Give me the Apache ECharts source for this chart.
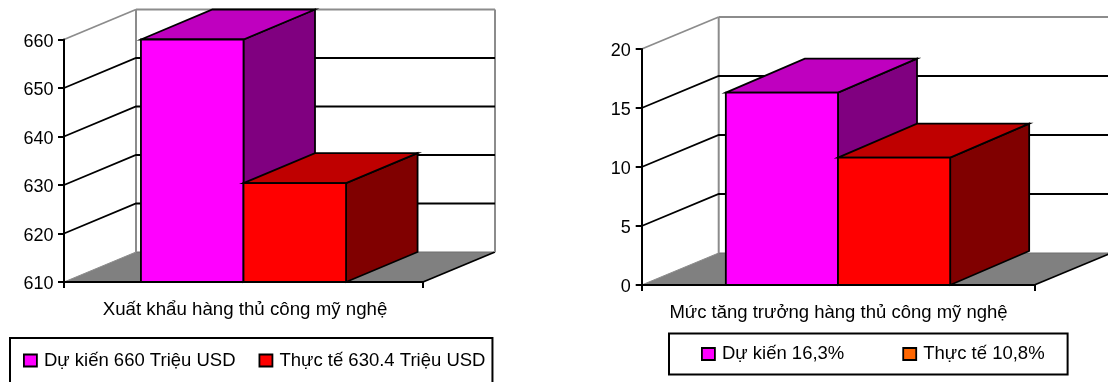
<!DOCTYPE html>
<html>
<head>
<meta charset="utf-8">
<style>html,body{margin:0;padding:0;background:#fff}#chart{width:1108px;height:382px}</style>
<script src="https://cdn.jsdelivr.net/npm/echarts@6/dist/echarts.min.js"></script>
</head>
<body>
<div id="chart"></div>
<script>
// Export panel
const exportCategory = ['Xuất khẩu hàng thủ công mỹ nghệ'];
const exportNames = ['Dự kiến 660 Triệu USD', 'Thực tế 630.4 Triệu USD'];
const exportPlanned = [660];
const exportActual = [630.4];
const exportTicks = [620, 630, 640, 650];

// Growth panel
const growthCategory = ['Mức tăng trưởng hàng thủ công mỹ nghệ'];
const growthNames = ['Dự kiến 16,3%', 'Thực tế 10,8%'];
const growthPlanned = [16.3];
const growthActual = [10.8];
const growthTicks = [5, 10, 15];

const FONT = '"Liberation Sans", Arial, sans-serif';
const INK = '#000';
const WALL = '#8c8c8c';
const STROKE = 1.8;
const BAR_SHARE = 1 / 3.5;   // two bars plus a 150% gap in the category band
const MAGENTA = { front: '#ff00ff', top: '#bf00bf', side: '#800080' };
const RED = { front: '#ff0000', top: '#bf0000', side: '#800000' };

const line = (x1, y1, x2, y2, stroke, lineWidth) => ({
  type: 'line', shape: { x1, y1, x2, y2 }, style: { stroke, lineWidth, fill: null }
});
const poly = (points, fill, stroke, lineWidth) => ({
  type: 'polygon', shape: { points }, style: { fill, stroke, lineWidth, lineJoin: 'miter' }
});

// Back walls and floor, extruded from the plot rectangle by (dx, dy)
function frameRenderer(dx, dy) {
  return (params) => {
    const r = params.coordSys;
    const x0 = r.x, x1 = r.x + r.width, yT = r.y, yB = r.y + r.height;
    return { type: 'group', children: [
      poly([[x0 + dx, yB + dy], [x1 + dx, yB + dy], [x1, yB], [x0, yB]], '#808080', null, 0),
      line(x0, yB, x0 + dx, yB + dy, WALL, 1),
      line(x0 + dx, yB + dy, x1 + dx, yB + dy, '#6e6e6e', 1),
      line(x1, yB, x1 + dx, yB + dy, INK, STROKE),
      line(x0, yT, x0 + dx, yT + dy, WALL, STROKE),
      line(x0 + dx, yT + dy, x1 + dx, yT + dy, WALL, 2),
      line(x0 + dx, yT + dy, x0 + dx, yB + dy, WALL, 2),
      line(x1 + dx, yT + dy, x1 + dx, yB + dy, WALL, 2)
    ]};
  };
}

// One gridline: runs up the side wall, then along the back wall
function gridRenderer(dx, dy) {
  return (params, api) => {
    const r = params.coordSys;
    const p = api.coord([0, api.value(1)]);
    return { type: 'polyline', shape: { points: [
      [r.x, p[1]], [r.x + dx, p[1] + dy], [r.x + r.width + dx, p[1] + dy]
    ]}, style: { stroke: INK, lineWidth: STROKE, fill: null } };
  };
}

// Extruded bar; slot is the bar's left edge in bar widths from the band centre
function barRenderer(slot, tone, dx, dy) {
  return (params, api) => {
    const r = params.coordSys;
    const w = r.width * BAR_SHARE;
    const top = api.coord([0, api.value(1)]);
    const yB = r.y + r.height;
    const xL = top[0] + slot * w, xR = xL + w, yT = top[1];
    return { type: 'group', children: [
      poly([[xR, yT], [xR + dx, yT + dy], [xR + dx, yB + dy], [xR, yB]], tone.side, INK, STROKE),
      poly([[xL, yT], [xL + dx, yT + dy], [xR + dx, yT + dy], [xR, yT]], tone.top, INK, STROKE),
      poly([[xL, yT], [xR, yT], [xR, yB], [xL, yB]], tone.front, INK, STROKE)
    ]};
  };
}

function panelSeries(i, names, planned, actual, ticks, top, wall, bar) {
  const base = { type: 'custom', xAxisIndex: i, yAxisIndex: i, silent: true, encode: { x: 0, y: 1 } };
  return [
    { ...base, name: 'frame' + i, z: 1, data: [[0, top]], renderItem: frameRenderer(wall.dx, wall.dy) },
    { ...base, name: 'grid' + i, z: 2, data: ticks.map(t => [0, t]), renderItem: gridRenderer(wall.dx, wall.dy) },
    { ...base, name: names[0], z: 3, data: [[0, planned[0]]], renderItem: barRenderer(-1, MAGENTA, bar.dx, bar.dy) },
    { ...base, name: names[1], z: 4, data: [[0, actual[0]]], renderItem: barRenderer(0, RED, bar.dx, bar.dy) }
  ];
}

const axisLine = { show: true, lineStyle: { color: INK, width: 2 } };
const axisTick = { show: true, length: 6, lineStyle: { color: INK, width: 2 } };

function xAxis(i, cats, margin, size, shift) {
  return { type: 'category', gridIndex: i, data: cats, z: 6, axisLine, axisTick,
    axisLabel: { color: '#000', fontFamily: FONT, fontSize: size, margin, interval: 0, padding: [0, 0, 0, shift] } };
}
function yAxis(i, min, max, step, margin) {
  // The rich box carries extra space on top so each number sits a little below its tick
  return { type: 'value', gridIndex: i, min, max, interval: step, z: 6, axisLine, axisTick,
    splitLine: { show: false },
    axisLabel: { margin, formatter: '{n|{value}}',
      rich: { n: { color: '#000', fontFamily: FONT, fontSize: 18, padding: [5, 0, 0, 0] } } } };
}
function legend(names, colors, left, top, padding, gap) {
  return { left, top, padding, itemGap: gap, itemWidth: 13, itemHeight: 12,
    selectedMode: false, orient: 'horizontal', backgroundColor: '#fff',
    borderColor: INK, borderWidth: 2, borderRadius: 0,
    textStyle: { color: '#000', fontFamily: FONT, fontSize: 18.5, padding: [0, 0, 0, 2] },
    data: names.map((name, k) => ({ name, icon: 'rect',
      itemStyle: { color: colors[k], borderColor: INK, borderWidth: 1.8 } })) };
}

const option = {
  animation: false,
  backgroundColor: '#fff',
  grid: [
    { left: 64, top: 39.5, width: 359, height: 242.5, containLabel: false },
    { left: 641.7, top: 49, width: 392.6, height: 236, containLabel: false }
  ],
  xAxis: [xAxis(0, exportCategory, 18, 18.7, 3), xAxis(1, growthCategory, 18, 18.5, 1)],
  yAxis: [yAxis(0, 610, 660, 10, 10.5), yAxis(1, 0, 20, 5, 11)],
  legend: [
    legend(exportNames, [MAGENTA.front, RED.front], 10, 338, [13, 7, 14, 13], 23),
    legend(growthNames, [MAGENTA.front, '#ff6600'], 669, 333.5, [11, 23, 11, 32], 58)
  ],
  series: [
    ...panelSeries(0, exportNames, exportPlanned, exportActual, exportTicks, 660, { dx: 72, dy: -30 }, { dx: 71.5, dy: -30 }),
    ...panelSeries(1, growthNames, growthPlanned, growthActual, growthTicks, 20, { dx: 77, dy: -32 }, { dx: 79, dy: -34 })
  ]
};

echarts.init(document.getElementById('chart'), null, { renderer: 'canvas' }).setOption(option);
</script>
</body>
</html>
